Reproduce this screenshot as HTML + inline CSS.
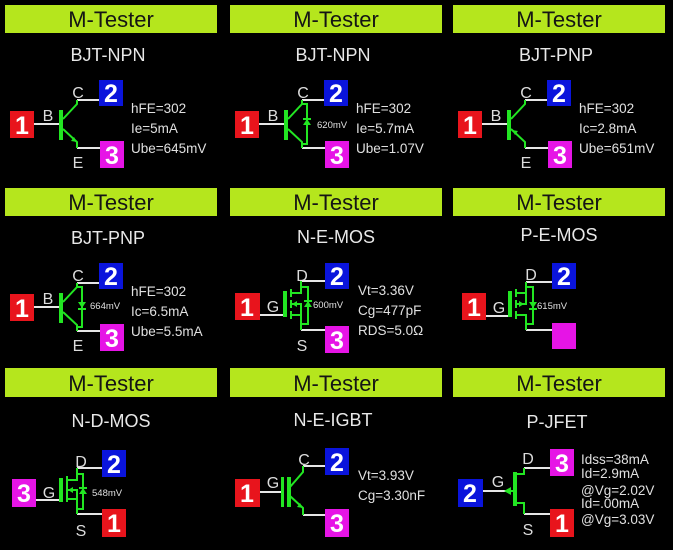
<!DOCTYPE html>
<html><head><meta charset="utf-8"><style>
html,body{margin:0;padding:0;background:#000;width:673px;height:550px;overflow:hidden}
svg{display:block}
text{font-family:"Liberation Sans",sans-serif}
.h{fill:#b5e61d}
.ht{font-size:22px;fill:#151515;text-anchor:middle}
.t{font-size:18px;fill:#e8e8e8;text-anchor:middle}
.l{font-size:16px;fill:#dcdcdc;text-anchor:middle}
.v{font-size:13.5px;fill:#e0e0e0}
.s{font-size:9.5px;fill:#e0e0e0}
.n{font-size:25px;font-weight:bold;fill:#fff;text-anchor:middle}
.w{stroke:#e6e6e6;stroke-width:2;fill:none}
.g{stroke:#22e622;stroke-width:2;fill:none}
.gf{fill:#22e622}
.r{fill:#e8141c}.b{fill:#0a14dc}.m{fill:#e614e6}
</style></head><body>
<svg width="673" height="550" viewBox="0 0 673 550">
<rect class="h" x="5" y="5" width="212" height="28"/><text class="ht" x="111" y="27">M-Tester</text>
<rect class="h" x="230" y="5" width="212" height="28"/><text class="ht" x="336" y="27">M-Tester</text>
<rect class="h" x="453" y="5" width="212" height="28"/><text class="ht" x="559" y="27">M-Tester</text>
<rect class="h" x="5" y="188" width="212" height="28"/><text class="ht" x="111" y="210">M-Tester</text>
<rect class="h" x="230" y="188" width="212" height="28"/><text class="ht" x="336" y="210">M-Tester</text>
<rect class="h" x="453" y="188" width="212" height="28"/><text class="ht" x="559" y="210">M-Tester</text>
<rect class="h" x="5" y="368" width="212" height="29"/><text class="ht" x="111" y="391">M-Tester</text>
<rect class="h" x="230" y="368" width="212" height="29"/><text class="ht" x="336" y="391">M-Tester</text>
<rect class="h" x="453" y="368" width="212" height="29"/><text class="ht" x="559" y="391">M-Tester</text>

<g transform="translate(0,0)">
<text class="t" x="108" y="61">BJT-NPN</text>
<rect class="r" x="10" y="111" width="24" height="27"/><text class="n" x="22" y="134">1</text>
<rect class="b" x="99" y="80" width="24" height="26"/><text class="n" x="111" y="102">2</text>
<rect class="m" x="100" y="141" width="24" height="27"/><text class="n" x="112" y="164">3</text>
<text class="l" x="78" y="98">C</text><text class="l" x="48" y="121">B</text><text class="l" x="78" y="168">E</text>
<path class="w" d="M34 124H60M77 100H99M77 148H100"/>
<rect class="gf" x="59" y="110" width="4" height="30"/>
<path class="g" d="M63 119L77 104V100M63 129L77 142V148"/>
<path class="gf" d="M77 142l-6-1l3-4z"/>
<text class="v" x="131" y="113">hFE=302</text><text class="v" x="131" y="133">Ie=5mA</text><text class="v" x="131" y="153">Ube=645mV</text>
</g>

<g transform="translate(225,0)">
<text class="t" x="108" y="61">BJT-NPN</text>
<rect class="r" x="10" y="111" width="24" height="27"/><text class="n" x="22" y="134">1</text>
<rect class="b" x="99" y="80" width="24" height="26"/><text class="n" x="111" y="102">2</text>
<rect class="m" x="100" y="141" width="24" height="27"/><text class="n" x="112" y="164">3</text>
<text class="l" x="78" y="98">C</text><text class="l" x="48" y="121">B</text>
<path class="w" d="M34 124H60M77 100H99M77 148H100"/>
<rect class="gf" x="59" y="110" width="4" height="30"/>
<path class="g" d="M63 119L77 104V100M63 129L77 142V148M77 104H82V144H77"/>
<path class="gf" d="M82 119l-4 6h8z"/><path class="g" d="M78 119h8"/>
<text class="s" x="92" y="128">620mV</text>
<text class="v" x="131" y="113">hFE=302</text><text class="v" x="131" y="133">Ie=5.7mA</text><text class="v" x="131" y="153">Ube=1.07V</text>
</g>

<g transform="translate(448,0)">
<text class="t" x="108" y="61">BJT-PNP</text>
<rect class="r" x="10" y="111" width="24" height="27"/><text class="n" x="22" y="134">1</text>
<rect class="b" x="99" y="80" width="24" height="26"/><text class="n" x="111" y="102">2</text>
<rect class="m" x="100" y="141" width="24" height="27"/><text class="n" x="112" y="164">3</text>
<text class="l" x="78" y="98">C</text><text class="l" x="48" y="121">B</text><text class="l" x="78" y="168">E</text>
<path class="w" d="M34 124H60M77 100H99M77 148H100"/>
<rect class="gf" x="59" y="110" width="4" height="30"/>
<path class="g" d="M63 119L77 104V100M63 129L77 142V148"/>
<path class="gf" d="M64 130l6 1l-3 4z"/>
<text class="v" x="131" y="113">hFE=302</text><text class="v" x="131" y="133">Ic=2.8mA</text><text class="v" x="131" y="153">Ube=651mV</text>
</g>

<g transform="translate(0,183)">
<text class="t" x="108" y="61">BJT-PNP</text>
<rect class="r" x="10" y="111" width="24" height="27"/><text class="n" x="22" y="134">1</text>
<rect class="b" x="99" y="80" width="24" height="26"/><text class="n" x="111" y="102">2</text>
<rect class="m" x="100" y="141" width="24" height="27"/><text class="n" x="112" y="164">3</text>
<text class="l" x="78" y="98">C</text><text class="l" x="48" y="121">B</text><text class="l" x="78" y="168">E</text>
<path class="w" d="M34 124H60M77 100H99M77 148H100"/>
<rect class="gf" x="59" y="110" width="4" height="30"/>
<path class="g" d="M63 119L77 104V100M63 129L77 142V148M77 104H82V144H77"/>
<path class="gf" d="M82 125l-4 -6h8z"/><path class="g" d="M78 126h8"/>
<text class="s" x="90" y="126">664mV</text>
<text class="v" x="131" y="113">hFE=302</text><text class="v" x="131" y="133">Ic=6.5mA</text><text class="v" x="131" y="153">Ube=5.5mA</text>
</g>

<g transform="translate(225,183)">
<text class="t" x="111" y="60">N-E-MOS</text>
<rect class="r" x="10" y="110" width="25" height="27"/><text class="n" x="22" y="133">1</text>
<rect class="b" x="100" y="80" width="24" height="26"/><text class="n" x="112" y="102">2</text>
<rect class="m" x="100" y="143" width="24" height="27"/><text class="n" x="112" y="166">3</text>
<text class="l" x="77" y="98">D</text><text class="l" x="48" y="129">G</text><text class="l" x="77" y="168">S</text>
<path class="w" d="M35 132H59M76 98H100M76 147H100"/>
<rect class="gf" x="58" y="108" width="4" height="26"/>
<path class="g" d="M66 106V114M66 117V125M66 128V136M66 110H76V98M66 132H76V147M66 121H76V132M76 104H83V141H76"/>
<path class="gf" d="M67 121l5-3v6z"/>
<path class="gf" d="M83 118l-4 6h8z"/><path class="g" d="M79 118h8"/>
<text class="s" x="88" y="125">600mV</text>
<text class="v" x="133" y="112">Vt=3.36V</text><text class="v" x="133" y="132">Cg=477pF</text><text class="v" x="133" y="152">RDS=5.0Ω</text>
</g>

<g transform="translate(448,183)">
<text class="t" x="111" y="58">P-E-MOS</text>
<rect class="r" x="14" y="110" width="24" height="27"/><text class="n" x="26" y="133">1</text>
<rect class="b" x="104" y="80" width="24" height="26"/><text class="n" x="116" y="102">2</text>
<rect class="m" x="104" y="140" width="24" height="26"/>
<text class="l" x="83" y="97">D</text><text class="l" x="51" y="130">G</text>
<path class="w" d="M38 133H61M78 99H104M78 147H104"/>
<rect class="gf" x="60" y="108" width="4" height="26"/>
<path class="g" d="M68 106V114M68 117V125M68 128V136M68 110H78V99M68 132H78V147M68 121H78V110M78 104H85V141H78"/>
<path class="gf" d="M76 121l-5-3v6z"/>
<path class="gf" d="M85 125l-4 -6h8z"/><path class="g" d="M81 126h8"/>
<text class="s" x="89" y="126">615mV</text>
</g>

<g transform="translate(0,366)">
<text class="t" x="111" y="61">N-D-MOS</text>
<rect class="m" x="12" y="113" width="24" height="28"/><text class="n" x="24" y="136">3</text>
<rect class="b" x="102" y="84" width="24" height="27"/><text class="n" x="114" y="107">2</text>
<rect class="r" x="102" y="143" width="24" height="28"/><text class="n" x="114" y="166">1</text>
<text class="l" x="81" y="101">D</text><text class="l" x="49" y="132">G</text><text class="l" x="81" y="170">S</text>
<path class="w" d="M36 134H60M77 102H102M77 148H102"/>
<rect class="gf" x="59" y="112" width="4" height="24"/>
<path class="g" d="M67 110V136M67 114H77V102M67 133H77V148M67 124H77V133M77 108H83V143H77"/>
<path class="gf" d="M68 124l5-3v6z"/>
<path class="gf" d="M83 122l-4 6h8z"/><path class="g" d="M79 122h8"/>
<text class="s" x="92" y="130">548mV</text>
</g>

<g transform="translate(225,366)">
<text class="t" x="108" y="60">N-E-IGBT</text>
<rect class="r" x="10" y="113" width="25" height="28"/><text class="n" x="22" y="136">1</text>
<rect class="b" x="100" y="82" width="24" height="27"/><text class="n" x="112" y="105">2</text>
<rect class="m" x="100" y="143" width="24" height="28"/><text class="n" x="112" y="166">3</text>
<text class="l" x="79" y="99">C</text><text class="l" x="48" y="122">G</text>
<path class="w" d="M35 126H57M78 100H100M78 149H100"/>
<rect class="gf" x="56" y="111" width="3" height="30"/>
<rect class="gf" x="62" y="111" width="4" height="30"/>
<path class="g" d="M65 121L78 106V100M65 130L78 142V149"/>
<path class="gf" d="M78 142l-6-1l3-4z"/>
<text class="v" x="133" y="114">Vt=3.93V</text><text class="v" x="133" y="134">Cg=3.30nF</text>
</g>

<g transform="translate(448,366)">
<text class="t" x="109" y="62">P-JFET</text>
<rect class="b" x="10" y="113" width="25" height="28"/><text class="n" x="22" y="136">2</text>
<rect class="m" x="102" y="83" width="24" height="27"/><text class="n" x="114" y="106">3</text>
<rect class="r" x="102" y="143" width="24" height="28"/><text class="n" x="114" y="166">1</text>
<text class="l" x="80" y="98">D</text><text class="l" x="50" y="121">G</text><text class="l" x="80" y="169">S</text>
<path class="w" d="M35 125H58M76 102H102M76 148H102"/>
<path class="g" d="M58 125H65"/>
<path class="gf" d="M56 125l7-4v8z"/>
<rect class="gf" x="65" y="106" width="4" height="34"/>
<path class="g" d="M68 108H76V102M68 137H76V148"/>
<text class="v" x="133" y="98">Idss=38mA</text><text class="v" x="133" y="112">Id=2.9mA</text><text class="v" x="133" y="129">@Vg=2.02V</text><text class="v" x="133" y="142">Id=.00mA</text><text class="v" x="133" y="158">@Vg=3.03V</text>
</g>
</svg>
</body></html>
